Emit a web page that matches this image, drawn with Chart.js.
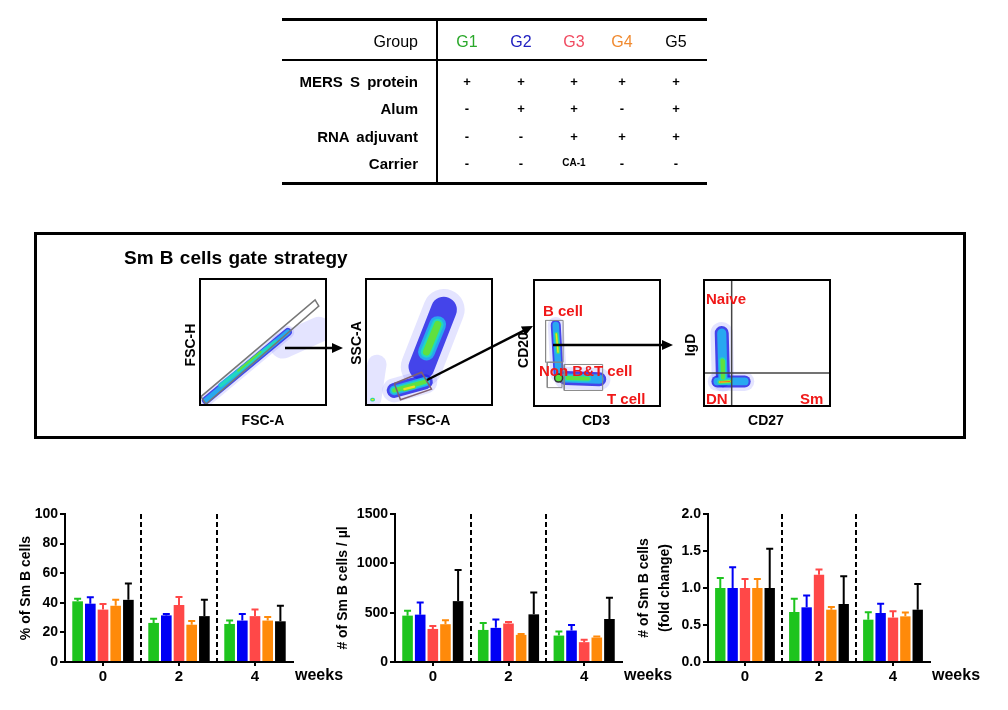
<!DOCTYPE html>
<html>
<head>
<meta charset="utf-8">
<script src="https://cdn.jsdelivr.net/npm/chart.js@4.4.1/dist/chart.umd.min.js"></script>
<style>
  body { margin: 0; background: #fff; font-family: "Liberation Sans", Arial, sans-serif; color: #000; }
  #page { position: relative; width: 1008px; height: 710px; overflow: hidden; }
  .lab { position: absolute; line-height: 1; white-space: nowrap; }
  .rule { position: absolute; background: #000; }
  .flow { position: absolute; border: 2px solid #000; box-sizing: border-box; width: 128px; height: 128px; }
  .flow canvas { display: block; }
  .bars { position: absolute; }
</style>
</head>
<body>
<div id="page">
  <div class="rule" style="left:282px;top:18px;width:425px;height:3px"></div>
  <div class="rule" style="left:282px;top:59px;width:425px;height:2px"></div>
  <div class="rule" style="left:282px;top:182px;width:425px;height:3px"></div>
  <div class="rule" style="left:436px;top:18px;width:2px;height:167px"></div>

  <div style="position:absolute;left:34px;top:232px;width:932px;height:207px;border:3px solid #000;box-sizing:border-box"></div>

  <div class="flow" style="left:199px;top:278px"><canvas id="flow1" width="124" height="124"></canvas></div>
  <div class="flow" style="left:365px;top:278px"><canvas id="flow2" width="124" height="124"></canvas></div>
  <div class="flow" style="left:533px;top:279px"><canvas id="flow3" width="124" height="124"></canvas></div>
  <div class="flow" style="left:703px;top:279px"><canvas id="flow4" width="124" height="124"></canvas></div>
  <canvas id="arrows" width="1008" height="710" style="position:absolute;left:0;top:0;pointer-events:none"></canvas>

  <canvas class="bars" id="graph1" width="350" height="210" style="left:0;top:500px"></canvas>
  <canvas class="bars" id="graph2" width="350" height="210" style="left:330px;top:500px"></canvas>
  <canvas class="bars" id="graph3" width="378" height="210" style="left:630px;top:500px"></canvas>
</div>
<script>
// Table
const groupNames = ["G1", "G2", "G3", "G4", "G5"];
const tableRows = ["MERS S protein", "Alum", "RNA adjuvant", "Carrier"];
const tableMarks = [
  ["+", "+", "+", "+", "+"],
  ["-", "+", "+", "-", "+"],
  ["-", "-", "+", "+", "+"],
  ["-", "-", "CA-1", "-", "-"],
];

// Bar charts: weeks 0 / 2 / 4, one array per group
const weeks = ["0", "2", "4"];

const pctMean = [[41, 26.4, 25.7], [39.4, 31.5, 28], [35.4, 38.5, 31], [38, 25.2, 28], [42, 31, 27.5]];
const pctSd = [[1.8, 2.9, 2.3], [4.3, 1.0, 4.4], [3.8, 5.5, 4.4], [4.0, 2.5, 2.4], [11, 11, 10.5]];

const countMean = [[470, 325, 268], [480, 346, 319], [335, 390, 201], [383, 275, 248], [617, 483, 436]];
const countSd = [[50, 71, 41], [124, 84, 57], [31, 15, 24], [40, 10, 10], [316, 222, 215]];

const foldMean = [[1.0, 0.676, 0.572], [1.0, 0.739, 0.662], [1.0, 1.18, 0.6], [1.0, 0.707, 0.617], [1.0, 0.784, 0.707]];
const foldSd = [[0.135, 0.18, 0.1], [0.28, 0.16, 0.126], [0.12, 0.07, 0.085], [0.12, 0.036, 0.053], [0.53, 0.374, 0.347]];

// Gate plot sketches (axis fraction 0..1)
const singletCells = [
  { pts: [[0.04, 0.03], [0.70, 0.58]], w: 8, from: 0, to: 3 },
  { pts: [[0.66, 0.47], [0.95, 0.60]], w: 16, from: 0, to: 1 },
  { pts: [[0.16, 0.15], [0.60, 0.50]], w: 8, from: 2, to: 4 },
  { pts: [[0.30, 0.27], [0.48, 0.42]], w: 8, from: 4, to: 5 },
];
const singletGate = [[0.0, 0.06], [0.92, 0.84], [0.95, 0.79], [0.04, 0.0], [0.0, 0.06]];

const scatterCells = [
  { pts: [[0.44, 0.30], [0.62, 0.76]], w: 26, from: 0, to: 2 },
  { pts: [[0.48, 0.42], [0.57, 0.64]], w: 26, from: 2, to: 5 },
  { pts: [[0.22, 0.11], [0.47, 0.18]], w: 15, from: 0, to: 5 },
  { pts: [[0.30, 0.12], [0.38, 0.14]], w: 15, from: 4, to: 6 },
  { pts: [[0.04, 0.05], [0.08, 0.32]], w: 12, from: 0, to: 1 },
  { pts: [[0.04, 0.035], [0.05, 0.035]], w: 8, from: 3, to: 6 },
];
const lymphGate = [[0.22, 0.165], [0.44, 0.256], [0.52, 0.12], [0.27, 0.034], [0.22, 0.165]];

const cd3Cells = [
  { pts: [[0.135, 0.66], [0.16, 0.22]], w: 10, from: 0, to: 3 },
  { pts: [[0.14, 0.58], [0.155, 0.42]], w: 10, from: 3, to: 6 },
  { pts: [[0.22, 0.19], [0.52, 0.18]], w: 14, from: 0, to: 3 },
  { pts: [[0.24, 0.19], [0.42, 0.185]], w: 14, from: 3, to: 5 },
];
const bCellGate = [[0.045, 0.33], [0.2, 0.33], [0.2, 0.70], [0.045, 0.70], [0.045, 0.33]];
const nonBTGate = [[0.06, 0.105], [0.19, 0.105], [0.19, 0.33], [0.06, 0.33], [0.06, 0.105]];
const tCellGate = [[0.21, 0.08], [0.55, 0.08], [0.55, 0.31], [0.21, 0.31], [0.21, 0.08]];

const igdCells = [
  { pts: [[0.135, 0.58], [0.145, 0.2]], w: 14, from: 0, to: 3 },
  { pts: [[0.1, 0.19], [0.32, 0.19]], w: 12, from: 0, to: 3 },
  { pts: [[0.14, 0.36], [0.145, 0.22]], w: 14, from: 3, to: 5 },
  { pts: [[0.12, 0.185], [0.2, 0.19]], w: 12, from: 3, to: 7 },
];
const quadX = [[0.215, 0], [0.215, 1]];
const quadY = [[0, 0.258], [1, 0.258]];

// Colors
const barColors = ["#1ec41e", "#0000f5", "#ff4848", "#ff8a0a", "#000000"];
const labelColors = ["#2aa82a", "#2020c0", "#f04a60", "#f08a30", "#000000"];
const density = [
  { c: "rgba(120,120,255,0.2)", f: 1.6 },
  { c: "rgba(40,40,230,0.85)", f: 1.0 },
  { c: "#28a8f0", f: 0.65 },
  { c: "#20d8c0", f: 0.45 },
  { c: "#60e040", f: 0.28 },
  { c: "#f0e020", f: 0.14 },
  { c: "#f04020", f: 0.06 },
];
const font = "'Liberation Sans', Arial, sans-serif";
Chart.defaults.font.family = font;
Chart.defaults.color = "#000";

const page = document.getElementById("page");
function place(text, x, y, css, anchor, rotate) {
  const d = document.createElement("div");
  d.className = "lab";
  d.textContent = text;
  d.style.left = x + "px";
  d.style.top = y + "px";
  const tx = anchor === "right" ? "-100%" : anchor === "left" ? "0" : "-50%";
  d.style.transform = `translate(${tx},-50%)` + (rotate ? " rotate(-90deg)" : "");
  Object.assign(d.style, css);
  page.appendChild(d);
}

// Table text
const colX = [467, 521, 574, 622, 676];
const rowY = [81, 108, 136, 163];
place("Group", 418, 42, { fontSize: "16px" }, "right");
groupNames.forEach((g, i) => place(g, colX[i], 42, { fontSize: "16px", color: labelColors[i] }));
tableRows.forEach((r, j) => {
  place(r, 418, rowY[j], { fontSize: "15px", fontWeight: "bold", wordSpacing: "3px" }, "right");
  tableMarks[j].forEach((m, i) =>
    place(m, colX[i], rowY[j], { fontSize: m.length > 1 ? "10px" : "13px", fontWeight: "bold" }));
});

// Gate strategy text
const axisCss = { fontSize: "14px", fontWeight: "bold" };
const redCss = { fontSize: "15px", fontWeight: "bold", color: "#f01818" };
place("Sm B cells  gate strategy", 124, 257,
  { fontSize: "19px", fontWeight: "bold", wordSpacing: "1px" }, "left");
place("FSC-H", 190, 345, axisCss, "center", true);
place("FSC-A", 263, 420, axisCss);
place("SSC-A", 356, 343, axisCss, "center", true);
place("FSC-A", 429, 420, axisCss);
place("CD20", 523, 350, axisCss, "center", true);
place("CD3", 596, 420, axisCss);
place("IgD", 690, 345, axisCss, "center", true);
place("CD27", 766, 420, axisCss);
place("B cell", 543, 310, redCss, "left");
place("Non B&T cell", 539, 370, redCss, "left");
place("T cell", 607, 398, redCss, "left");
place("Naive", 706, 298, redCss, "left");
place("DN", 706, 398, redCss, "left");
place("Sm", 800, 398, redCss, "left");

function flowChart(id, cells, lines, dots = []) {
  const datasets = [];
  cells.forEach((s) => {
    for (let k = s.from; k < s.to; k++) {
      datasets.push({
        data: s.pts.map((p) => ({ x: p[0], y: p[1] })),
        showLine: true,
        borderColor: density[k].c,
        borderWidth: s.w * density[k].f,
        borderCapStyle: "round",
        pointRadius: 0,
        order: 20 - k,
        clip: 0,
      });
    }
  });
  lines.forEach((l) => {
    datasets.push({
      data: l.pts.map((p) => ({ x: p[0], y: p[1] })),
      showLine: true,
      borderColor: l.color,
      borderWidth: l.width,
      pointRadius: 0,
      order: 1,
      clip: 0,
    });
  });
  dots.forEach((d) => {
    datasets.push({
      data: [{ x: d[0], y: d[1] }],
      pointRadius: 4,
      pointBorderWidth: 1.5,
      pointBorderColor: "#333",
      pointBackgroundColor: "#5ce040",
      order: 0,
    });
  });
  new Chart(document.getElementById(id), {
    type: "scatter",
    data: { datasets },
    options: {
      responsive: false,
      animation: false,
      events: [],
      layout: { padding: 0 },
      plugins: { legend: { display: false }, tooltip: { enabled: false } },
      scales: {
        x: { type: "linear", min: 0, max: 1, display: false },
        y: { type: "linear", min: 0, max: 1, display: false },
      },
    },
  });
}

flowChart("flow1", singletCells, [{ pts: singletGate, color: "#777", width: 1.5 }]);
flowChart("flow2", scatterCells, [{ pts: lymphGate, color: "#806070", width: 1.5 }]);
flowChart("flow3", cd3Cells, [
  { pts: bCellGate, color: "#888", width: 1 },
  { pts: nonBTGate, color: "#888", width: 1 },
  { pts: tCellGate, color: "#888", width: 1 },
], [[0.16, 0.19]]);
flowChart("flow4", igdCells, [
  { pts: quadX, color: "#444", width: 1.5 },
  { pts: quadY, color: "#444", width: 1.5 },
]);

// Arrows between gate plots
const actx = document.getElementById("arrows").getContext("2d");
function arrow(x1, y1, x2, y2) {
  const a = Math.atan2(y2 - y1, x2 - x1);
  actx.strokeStyle = "#000";
  actx.fillStyle = "#000";
  actx.lineWidth = 2.5;
  actx.beginPath();
  actx.moveTo(x1, y1);
  actx.lineTo(x2 - 8 * Math.cos(a), y2 - 8 * Math.sin(a));
  actx.stroke();
  actx.beginPath();
  actx.moveTo(x2, y2);
  actx.lineTo(x2 - 11 * Math.cos(a) + 5 * Math.sin(a), y2 - 11 * Math.sin(a) - 5 * Math.cos(a));
  actx.lineTo(x2 - 11 * Math.cos(a) - 5 * Math.sin(a), y2 - 11 * Math.sin(a) + 5 * Math.cos(a));
  actx.closePath();
  actx.fill();
}
arrow(285, 348, 343, 348);
arrow(427, 380, 533, 326);
arrow(553, 345, 673, 345);

// Bar chart plugins
const errorBars = {
  id: "errorBars",
  afterDatasetsDraw(chart) {
    const { ctx, scales: { y } } = chart;
    chart.data.datasets.forEach((ds, i) => {
      chart.getDatasetMeta(i).data.forEach((bar, j) => {
        const top = y.getPixelForValue(ds.data[j] + ds.sd[j]);
        ctx.save();
        ctx.strokeStyle = ds.backgroundColor;
        ctx.lineWidth = 2;
        ctx.beginPath();
        ctx.moveTo(bar.x, bar.y);
        ctx.lineTo(bar.x, top);
        ctx.moveTo(bar.x - 3.5, top);
        ctx.lineTo(bar.x + 3.5, top);
        ctx.stroke();
        ctx.restore();
      });
    });
  },
};

const separators = {
  id: "separators",
  afterDraw(chart) {
    const { ctx, chartArea: a, scales: { x } } = chart;
    ctx.save();
    ctx.strokeStyle = "#000";
    ctx.lineWidth = 2;
    ctx.setLineDash([5, 3]);
    for (let i = 0; i < weeks.length - 1; i++) {
      const px = Math.round((x.getPixelForValue(i) + x.getPixelForValue(i + 1)) / 2);
      ctx.beginPath();
      ctx.moveTo(px, a.top);
      ctx.lineTo(px, a.bottom);
      ctx.stroke();
    }
    ctx.setLineDash([]);
    ctx.fillStyle = "#000";
    ctx.font = "bold 16px " + font;
    ctx.textBaseline = "middle";
    ctx.fillText("weeks", a.right + 2, a.bottom + 14);
    ctx.restore();
  },
};

function barChart(id, means, sds, yMax, step, title, fmt, pad) {
  new Chart(document.getElementById(id), {
    type: "bar",
    data: {
      labels: weeks,
      datasets: groupNames.map((g, i) => ({
        label: g,
        data: means[i],
        sd: sds[i],
        backgroundColor: barColors[i],
        borderWidth: 0,
        categoryPercentage: 0.835,
        barPercentage: 0.84,
      })),
    },
    options: {
      responsive: false,
      animation: false,
      events: [],
      layout: { padding: { left: pad.left, right: pad.right, top: 14, bottom: 0 } },
      plugins: { legend: { display: false }, tooltip: { enabled: false } },
      scales: {
        x: {
          grid: { offset: false, drawOnChartArea: false, tickLength: 4, color: "#000", lineWidth: 2 },
          border: { color: "#000", width: 2 },
          ticks: { font: { size: 15, weight: "bold" }, color: "#000", padding: 2 },
          afterFit: (s) => { s.height = 48; },
        },
        y: {
          min: 0,
          max: yMax,
          ticks: { stepSize: step, font: { size: 14, weight: "bold" }, color: "#000", padding: 2, callback: fmt },
          grid: { drawOnChartArea: false, tickLength: 5, color: "#000", lineWidth: 2 },
          border: { color: "#000", width: 2 },
          title: {
            display: true,
            text: title,
            font: { size: 14, weight: "bold", lineHeight: 1.5 },
            color: "#000",
            padding: { top: 2, bottom: 0 },
          },
          afterFit: (s) => { s.width = pad.yWidth; },
        },
      },
    },
    plugins: [errorBars, separators],
  });
}

barChart("graph1", pctMean, pctSd, 100, 20, "% of Sm B cells", (v) => v,
  { left: 14, yWidth: 51, right: 57 });
barChart("graph2", countMean, countSd, 1500, 500, "# of Sm B cells / \u00b5l", (v) => v,
  { left: 1, yWidth: 64, right: 58 });
barChart("graph3", foldMean, foldSd, 2, 0.5, ["# of Sm B cells", "(fold change)"], (v) => v.toFixed(1),
  { left: 2, yWidth: 76, right: 78 });
</script>
</body>
</html>
